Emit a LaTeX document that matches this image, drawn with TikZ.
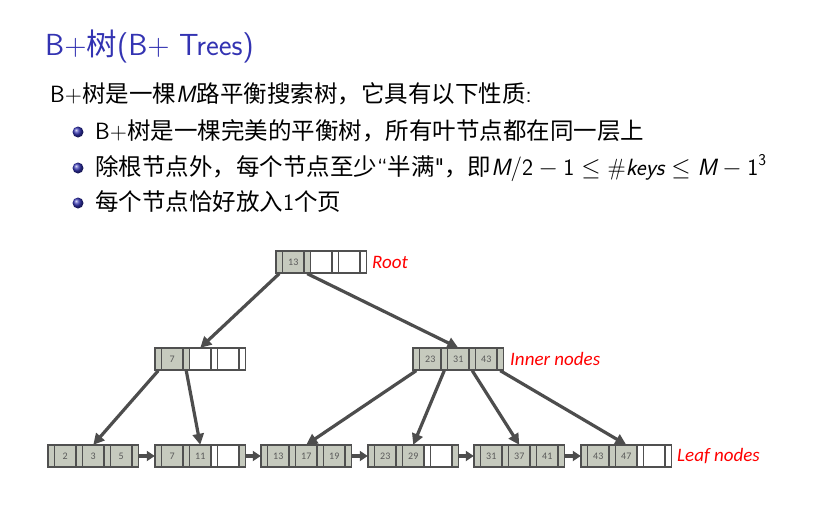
\documentclass[tikz,border=0pt]{standalone}
\usepackage{fontspec}
\newfontfamily\cjk{Noto Sans CJK SC}
\newfontfamily\cali{Carlito}
\usetikzlibrary{arrows.meta}
\definecolor{titleblue}{RGB}{51,51,178}
\definecolor{cellgray}{RGB}{198,202,190}
\definecolor{celledge}{RGB}{80,80,80}
\definecolor{arrowgray}{RGB}{77,77,77}
\definecolor{numgray}{RGB}{90,90,90}
\tikzset{
  cell/.style={draw=celledge, line width=1.3pt, inner sep=0pt, minimum height=22pt,
    font=\cali\fontsize{10}{11}\selectfont, text=numgray},
  pcell/.style={cell, minimum width=6.5pt},
  kcell/.style={cell, minimum width=21.5pt},
  whole/.style={inner sep=0pt, minimum width=90.5pt, minimum height=22pt},
  ptr/.style={draw=arrowgray, line width=3.2pt, -{Triangle[length=11pt,width=11pt]}},
  hptr/.style={draw=arrowgray, line width=3.2pt, -{Triangle[length=8pt,width=10pt]}},
  lbl/.style={anchor=west, inner sep=0pt, text=red, font=\cali\itshape\fontsize{19}{22}\selectfont},
  body/.style={anchor=base west, inner sep=0pt, font=\sffamily\fontsize{23.5}{28}\selectfont},
  ttl/.style={anchor=base west, inner sep=0pt, text=titleblue, font=\sffamily\fontsize{30.5}{36}\selectfont},
  bul/.style={circle, inner sep=0pt, minimum size=11pt, ball color=titleblue},
}
\newcommand\bpkey[3]{\def\bpk{#3}\ifx\bpk\empty
  \node[kcell,fill=white] (#1) at (#2,0) {};\else
  \node[kcell,fill=cellgray] (#1) at (#2,0) {#3};\fi}
\newcommand\bpnode[8]{%
  \begin{scope}[shift={(#2)}]
    \node[whole] (#1) at (45.25,0) {};
    \node[pcell,fill=cellgray] (#1-p1) at (3.25,0) {};
    \bpkey{#1-k1}{17.25}{#3}
    \node[pcell,fill=#6] (#1-p2) at (31.25,0) {};
    \bpkey{#1-k2}{45.25}{#4}
    \node[pcell,fill=#7] (#1-p3) at (59.25,0) {};
    \bpkey{#1-k3}{73.25}{#5}
    \node[pcell,fill=#8] (#1-p4) at (87.25,0) {};
  \end{scope}}
\begin{document}
\begin{tikzpicture}[x=1pt,y=-1pt]
\path[fill=white] (0,0) rectangle (839,517);
\useasboundingbox (0,0) rectangle (839,517);

\node[ttl] (title) at (45,55) {B+{\cjk 树}(B+ Trees)};
\node[body] (line0) at (50,102) {B+{\cjk 树是一棵}\textit{M}{\cjk 路平衡搜索树，它具有以下性质}:};
\node[bul] (b1) at (78,132) {};
\node[bul] (b2) at (78,168) {};
\node[bul] (b3) at (78,203) {};
\node[body] (line1) at (95,139.5) {B+{\cjk 树是一棵完美的平衡树，所有叶节点都在同一层上}};
\node[body] (line2) at (95,175) {{\cjk 除根节点外，每个节点至少}“{\cjk 半满}\textquotedbl{\cjk ，即}$\textit{M}/\mathsf{2}-\mathsf{1}\leq\#\textit{keys}\leq\textit{M}-\mathsf{1}^{\mathsf{3}}$};
\node[body] (line3) at (95,210.5) {{\cjk 每个节点恰好放入}1{\cjk 个页}};

\bpnode{root}{276,262}{13}{}{}{cellgray}{white}{white}
\bpnode{il}{155,359}{7}{}{}{cellgray}{white}{white}
\bpnode{ir}{413,359}{23}{31}{43}{cellgray}{cellgray}{cellgray}
\bpnode{la}{48,456}{2}{3}{5}{cellgray}{cellgray}{cellgray}
\bpnode{lb}{155,456}{7}{11}{}{cellgray}{white}{cellgray}
\bpnode{lc}{261,456}{13}{17}{19}{cellgray}{cellgray}{cellgray}
\bpnode{ld}{368,456}{23}{29}{}{cellgray}{white}{cellgray}
\bpnode{le}{474,456}{31}{37}{41}{cellgray}{cellgray}{cellgray}
\bpnode{lf}{581,456}{43}{47}{}{cellgray}{white}{white}

\draw[ptr] (root-p1.south) -- (il.north);
\draw[ptr] (root-p2.south) -- (ir.north);
\draw[ptr] (il-p1.south) -- (la.north);
\draw[ptr] (il-p2.south) -- (lb.north);
\draw[ptr] (ir-p1.south) -- (lc.north);
\draw[ptr] (ir-p2.south) -- (ld.north);
\draw[ptr] (ir-p3.south) -- (le.north);
\draw[ptr] (ir-p4.south) -- (lf.north);
\draw[hptr] (la.east) -- (lb.west);
\draw[hptr] (lb.east) -- (lc.west);
\draw[hptr] (lc.east) -- (ld.west);
\draw[hptr] (ld.east) -- (le.west);
\draw[hptr] (le.east) -- (lf.west);

\node[lbl] (rootlbl) at (372,262) {Root};
\node[lbl] (innerlbl) at (510,359) {Inner nodes};
\node[lbl] (leaflbl) at (677,456) {Leaf nodes};
\end{tikzpicture}
\end{document}
